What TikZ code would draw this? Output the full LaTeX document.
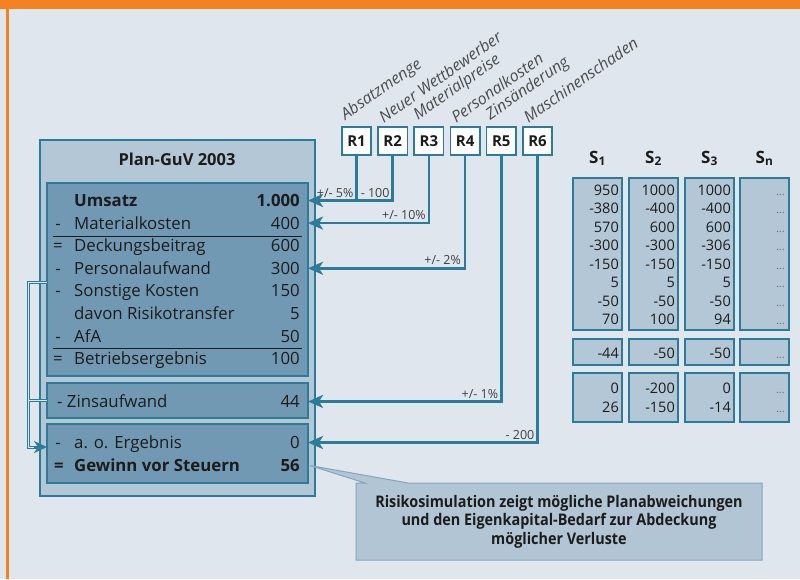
\documentclass[tikz,border=0pt]{standalone}
\usepackage{fontspec}
\setmainfont{Open Sans}
\newfontfamily\narrowfont[FakeStretch=0.9]{Open Sans}
\usetikzlibrary{positioning,arrows.meta}
\definecolor{guv-orange}{HTML}{F58220}
\definecolor{guv-back}{HTML}{DFE6ED}
\definecolor{guv-light}{HTML}{B4C7D6}
\definecolor{guv-mid}{HTML}{7299B3}
\definecolor{guv-teal}{HTML}{2B7B99}
\definecolor{guv-note}{HTML}{B1C5D5}
\definecolor{guv-note-line}{HTML}{86A6BD}
\definecolor{guv-text}{HTML}{1C1C1C}
\tikzset{
    outer-box/.style = {draw=guv-teal, fill=guv-light, line width=1.2pt, rectangle, anchor=north west, inner sep=0pt, outer sep=0pt},
    inner-box/.style = {outer-box, fill=guv-mid},
    sim-box/.style = {outer-box, line width=1.6pt, minimum width=49pt},
    risk-box/.style = {draw=guv-teal, fill=white, line width=1.6pt, minimum width=29.5pt, minimum height=28.5pt, inner sep=0pt, outer sep=0pt, font=\fontsize{15}{15}\selectfont\bfseries, text=guv-text},
    risk-label/.style = {rotate=35, anchor=south west, inner sep=0pt, font=\fontsize{16}{16}\selectfont\itshape, text=black!70},
    row-sign/.style = {anchor=base, inner sep=0pt, font=\fontsize{16.8}{16.8}\selectfont, text=guv-text},
    row-label/.style = {row-sign, anchor=base west},
    row-value/.style = {row-sign, anchor=base east},
    row-bold/.style = {font=\fontsize{16.8}{16.8}\selectfont\bfseries},
    sim-value/.style = {anchor=base east, inner sep=0pt, font=\fontsize{14.5}{14.5}\selectfont, text=guv-text},
    sim-dots/.style = {sim-value, text=black!55, font=\fontsize{11}{11}\selectfont},
    sim-head/.style = {anchor=base, inner sep=0pt, font=\fontsize{17}{17}\selectfont\bfseries, text=guv-text},
    shift-label/.style = {inner sep=0pt, font=\fontsize{12.5}{12.5}\selectfont, text=black!75},
    link/.style = {draw=guv-teal, line width=2.6pt, -{Stealth[length=15pt, width=13pt, inset=4pt]}},
    rail/.style = {draw=guv-teal, line width=3pt},
    rail-core/.style = {draw=guv-back, line width=1pt},
    note-text/.style = {align=center, inner sep=0pt, font=\narrowfont\bfseries\fontsize{16}{18.5}\selectfont, text=guv-text},
}

\begin{document}
\begin{tikzpicture}[x=1pt, y=-1pt]
\useasboundingbox (0,0) rectangle (800,579);
\fill[guv-back] (0,0) rectangle (800,579);
\fill[guv-orange] (0,0) rectangle (800,9);
\fill[guv-orange] (6,0) rectangle (8.5,579);

% Plan-GuV
\node[outer-box, minimum width=275pt, minimum height=356pt] (guv) at (40,140) {};
\node[font=\fontsize{16.5}{16.5}\selectfont\bfseries, text=guv-text] (guv-title) at (177,159) {Plan-GuV 2003};
\node[inner-box, minimum width=261pt, minimum height=193pt] (ops) at (47,183) {};
\node[inner-box, minimum width=261pt, minimum height=35pt] (zins) at (47,383) {};
\node[inner-box, minimum width=261pt, minimum height=59pt] (extra) at (47,424) {};

\node[row-label, row-bold] (lbl-umsatz) at (74,206.5) {Umsatz};
\node[row-value, row-bold] (val-umsatz) at (300,206.5) {1.000};
\foreach \sign/\name/\val/\key [count=\i] in {-/Materialkosten/400/mat, =/Deckungsbeitrag/600/db, -/Personalaufwand/300/pers, -/Sonstige Kosten/150/sonst, {}/davon Risikotransfer/5/davon, -/AfA/50/afa, =/Betriebsergebnis/100/be}{
    \node[row-sign] (sig-\key) at (58,206.5+22.6*\i) {\sign};
    \node[row-label] (lbl-\key) at (74,206.5+22.6*\i) {\name};
    \node[row-value] (val-\key) at (300,206.5+22.6*\i) {\val};
}
\draw[guv-text, line width=1pt] (53,236) -- (302,236);
\draw[guv-text, line width=1pt] (53,348) -- (302,348);

\node[row-label] (lbl-zins) at (57,407.5) {- Zinsaufwand};
\node[row-value] (val-zins) at (300,407.5) {44};
\node[row-sign] (sig-ao) at (58,448.5) {-};
\node[row-label] (lbl-ao) at (74,448.5) {a. o. Ergebnis};
\node[row-value] (val-ao) at (300,448.5) {0};
\node[row-sign, row-bold] (sig-gewinn) at (59,471.5) {=};
\node[row-label, row-bold] (lbl-gewinn) at (74,471.5) {Gewinn vor Steuern};
\node[row-value, row-bold] (val-gewinn) at (300,471.5) {56};

% risk drivers
\node[risk-box] (r1) at (356.5,141) {R1};
\foreach \i [remember=\i as \last (initially 1)] in {2,...,6}
    \node[risk-box, right=6.7pt of r\last] (r\i) {R\i};
\foreach \i/\risk in {1/Absatzmenge, 2/Neuer Wettbewerber, 3/Materialpreise, 4/Personalkosten, 5/Zinsänderung, 6/Maschinenschaden}
    \node[risk-label] (risk-\i) at ([xshift=6pt, yshift=3pt]r\i.north west) {\risk};

\draw[link] (r1.south) |- (ops.east |- val-umsatz.east);
\draw[link, -] (r2.south) |- (r1.south |- val-umsatz.east);
\draw[link] (r3.south) |- (ops.east |- val-mat.east);
\draw[link] (r4.south) |- (ops.east |- val-pers.east);
\draw[link] (r5.south) |- (zins.east |- val-zins.east);
\draw[link] (r6.south) |- (extra.east |- val-ao.east);

\coordinate (k1) at (r1.south |- val-umsatz.east);
\coordinate (k2) at (r2.south |- val-umsatz.east);
\coordinate (k3) at (r3.south |- val-mat.east);
\coordinate (k4) at (r4.south |- val-pers.east);
\coordinate (k5) at (r5.south |- val-zins.east);
\coordinate (k6) at (r6.south |- val-ao.east);
\node[shift-label, above left=3pt and 3pt of k1] (d1) {+/- 5\%};
\node[shift-label, above left=3pt and 3pt of k2] (d2) {- 100};
\node[shift-label, above left=3pt and 3pt of k3] (d3) {+/- 10\%};
\node[shift-label, above left=3pt and 4pt of k4] (d4) {+/- 2\%};
\node[shift-label, above left=3pt and 3pt of k5] (d5) {+/- 1\%};
\node[shift-label, above left=3pt and 3pt of k6] (d6) {- 200};

% left rail
\coordinate (tap) at (ops.west |- 0,282);
\coordinate (rail-top) at (28,282);
\coordinate (rail-end) at (extra.west |- 0,447);
\draw[rail, -{Stealth[length=13pt, width=12pt, inset=4pt]}] (tap) -- (rail-top) |- (rail-end);
\draw[rail] (zins.west) -- (rail-top |- zins.west);
\draw[rail-core, shorten >=13pt] (tap) -- (rail-top) |- (rail-end);
\draw[rail-core] (zins.west) -- (rail-top |- zins.west);

% simulation runs
\foreach \c/\x/\main/\mid/\low in {1/573/{950,-380,570,-300,-150,5,-50,70}/-44/{0,26}, 2/629/{1000,-400,600,-300,-150,5,-50,100}/-50/{-200,-150}, 3/685/{1000,-400,600,-306,-150,5,-50,94}/-50/{0,-14}}{
    \node[sim-box, minimum height=152pt] (s\c-a) at (\x,178) {};
    \node[sim-box, minimum height=26pt] (s\c-b) at (\x,339) {};
    \node[sim-box, minimum height=49pt] (s\c-c) at (\x,373) {};
    \foreach \v [count=\r from 0] in \main
        \node[sim-value] (s\c-a\r) at (\x+46,195+18.57*\r) {\v};
    \node[sim-value] (s\c-b0) at (\x+46,358) {\mid};
    \foreach \v [count=\r from 0] in \low
        \node[sim-value] (s\c-c\r) at (\x+46,393+19*\r) {\v};
}
\node[sim-box, minimum height=152pt] (sn-a) at (740,178) {};
\node[sim-box, minimum height=26pt] (sn-b) at (740,339) {};
\node[sim-box, minimum height=49pt] (sn-c) at (740,373) {};
\foreach \r in {0,...,7}
    \node[sim-dots] (sn-a\r) at (785,195+18.57*\r) {...};
\node[sim-dots] (sn-b0) at (785,358) {...};
\node[sim-dots] (sn-c0) at (785,393) {...};
\node[sim-dots] (sn-c1) at (785,412) {...};
\foreach \c in {1,2,3,n}
    \node[sim-head] (head-\c) at ([yshift=15pt]s\c-a.north) {S\textsubscript{\c}};

% note
\coordinate (note-tip) at ([xshift=2pt]extra.east |- val-gewinn.east);
\draw[draw=guv-note-line, fill=guv-note, line width=1pt] (356,483) -- (365,483) -- (note-tip) -- (408,483) -- (762,483) -- (762,560) -- (356,560) -- cycle;
\node[note-text] (note) at (559,521.5) {Risikosimulation zeigt mögliche Planabweichungen\\und den Eigenkapital-Bedarf zur Abdeckung\\möglicher Verluste};
\end{tikzpicture}
\end{document}
